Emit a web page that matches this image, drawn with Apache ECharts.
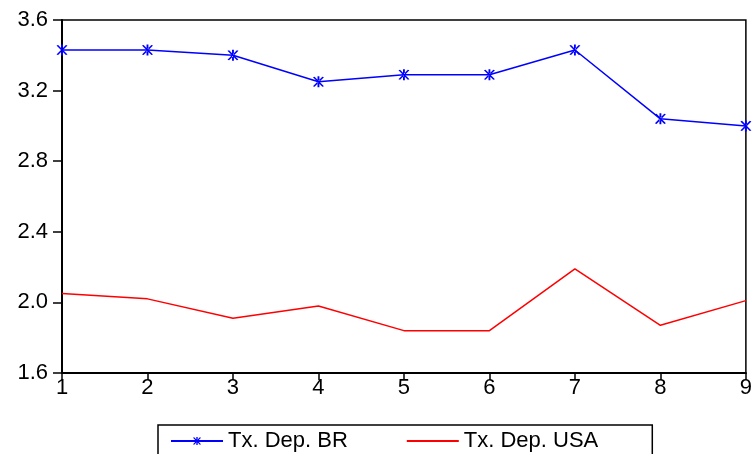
<!DOCTYPE html>
<html>
<head>
<meta charset="utf-8">
<script src="https://cdn.jsdelivr.net/npm/echarts@6/dist/echarts.min.js"></script>
<style>
html,body{margin:0;padding:0;background:#fff;}
#chart{width:755px;height:454px;}
</style>
</head>
<body>
<div id="chart"></div>
<script>
const categories = ['1','2','3','4','5','6','7','8','9'];
const seriesBRName = 'Tx. Dep. BR';
const seriesUSAName = 'Tx. Dep. USA';
const valuesBR = [3.43, 3.43, 3.40, 3.25, 3.29, 3.29, 3.43, 3.04, 3.00];
const valuesUSA = [2.05, 2.02, 1.91, 1.98, 1.84, 1.84, 2.19, 1.87, 2.01];

const asterisk = 'path://M4.5,0 L5.5,0 L5.5,10 L4.5,10 Z M2.933,0.42 L7.933,9.08 L7.067,9.58 L2.067,0.92 Z M7.067,0.42 L2.067,9.08 L2.933,9.58 L7.933,0.92 Z';
const font = '"Liberation Sans", Arial, sans-serif';

const chart = echarts.init(document.getElementById('chart'));
chart.setOption({
  animation: false,
  backgroundColor: '#fff',
  grid: {left: 62, right: 6, top: 20, bottom: 81, show: true, borderColor: '#000', borderWidth: 1.5, containLabel: false},
  xAxis: {
    type: 'category', data: categories, boundaryGap: false,
    axisLine: {lineStyle: {color: '#000', width: 2}},
    axisTick: {show: true, length: 7, inside: false, lineStyle: {color: '#000', width: 1.5}},
    axisLabel: {color: '#000', fontSize: 22, fontFamily: font, margin: 4},
    splitLine: {show: false}
  },
  yAxis: {
    type: 'value', min: 1.6, max: 3.6, interval: 0.4,
    axisLine: {show: true, lineStyle: {color: '#000', width: 2}},
    axisTick: {show: true, length: 9, inside: false, lineStyle: {color: '#000', width: 1.5}},
    axisLabel: {color: '#000', fontSize: 22, fontFamily: font, margin: 14, formatter: v => v.toFixed(1)},
    splitLine: {show: false}
  },
  legend: {
    left: 158, top: 425,
    itemWidth: 52, itemHeight: 10, itemGap: 58,
    padding: [5, 54, 12, 12],
    borderColor: '#000', borderWidth: 1.5,
    textStyle: {color: '#000', fontSize: 22, fontFamily: font},
    data: [
      {name: seriesBRName},
      {name: seriesUSAName, itemStyle: {opacity: 0}}
    ]
  },
  series: [
    {
      name: seriesBRName, type: 'line', data: valuesBR,
      symbol: asterisk, symbolSize: 11, showAllSymbol: true,
      lineStyle: {color: '#0000ff', width: 1.5},
      itemStyle: {color: '#0000ff'},
      clip: false
    },
    {
      name: seriesUSAName, type: 'line', data: valuesUSA,
      symbol: 'none',
      lineStyle: {color: '#ff0000', width: 1.5},
      itemStyle: {color: '#ff0000'}
    }
  ]
});
</script>
</body>
</html>
